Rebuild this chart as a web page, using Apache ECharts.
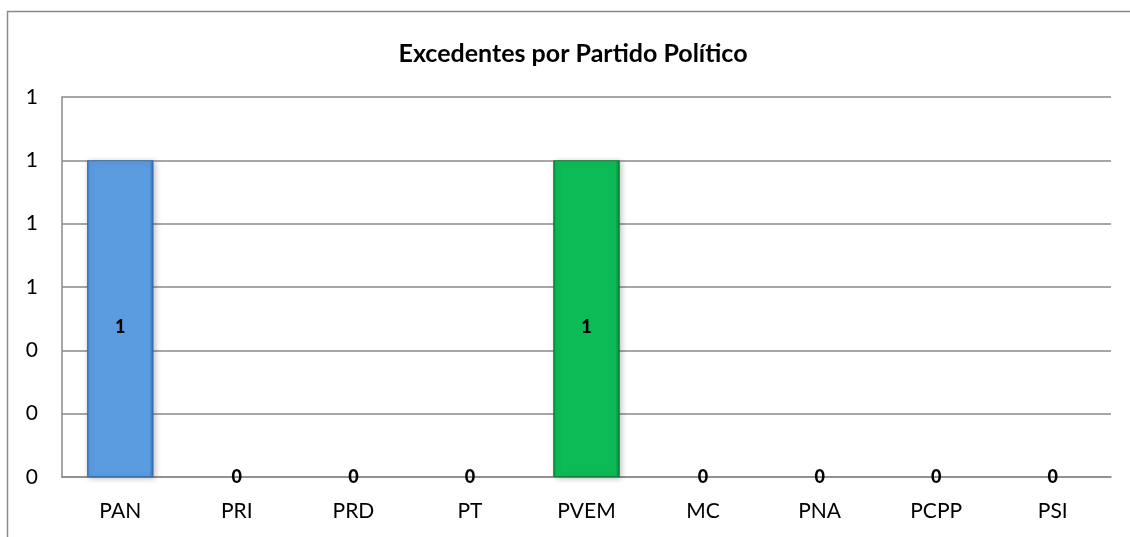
<!DOCTYPE html>
<html>
<head>
<meta charset="utf-8">
<script src="https://cdn.jsdelivr.net/npm/echarts@6/dist/echarts.min.js"></script>
<style>
  html, body { margin: 0; padding: 0; background: #fff; }
  #chart { width: 1130px; height: 537px; }
</style>
</head>
<body>
<div id="chart"></div>
<script>
const partidos = ['PAN', 'PRI', 'PRD', 'PT', 'PVEM', 'MC', 'PNA', 'PCPP', 'PSI'];
const excedentes = [1, 0, 0, 0, 1, 0, 0, 0, 0];
const barColors = ['#5b9be0', '#5b9be0', '#5b9be0', '#5b9be0', '#0cbb55', '#5b9be0', '#5b9be0', '#5b9be0', '#5b9be0'];
const edgeColors = ['#2f6cae', '#2f6cae', '#2f6cae', '#2f6cae', '#067a34', '#2f6cae', '#2f6cae', '#2f6cae', '#2f6cae'];

const FONT = 'Lato, "Open Sans", sans-serif';

function bevel(c, e) {
    return new echarts.graphic.LinearGradient(0, 0, 1, 0, [
        { offset: 0, color: e },
        { offset: 0.04, color: c },
        { offset: 0.94, color: c },
        { offset: 1, color: e }
    ]);
}

const chart = echarts.init(document.getElementById('chart'));
chart.setOption({
    animation: false,
    graphic: [{
        type: 'rect',
        shape: { x: 7.5, y: 11.5, width: 1140, height: 540 },
        style: { fill: 'none', stroke: '#8a8a8a', lineWidth: 1.5 },
        silent: true
    }],
    title: {
        text: 'Excedentes por Partido Político',
        left: 568,
        textAlign: 'center',
        top: 36,
        textStyle: { fontFamily: FONT, fontSize: 25, fontWeight: 'bold', color: '#000' }
    },
    grid: { left: 62, right: 19, top: 97, bottom: 60, containLabel: false },
    xAxis: {
        type: 'category',
        data: partidos,
        axisLine: { show: true, lineStyle: { color: '#8a8a8a', width: 1.5 } },
        axisTick: { show: false },
        axisLabel: { fontFamily: FONT, fontSize: 21, color: '#000', margin: 24 }
    },
    yAxis: {
        type: 'value',
        min: 0,
        max: 1.2,
        interval: 0.2,
        axisLine: { show: true, lineStyle: { color: '#8a8a8a', width: 1.5 } },
        axisTick: { show: false },
        splitLine: { lineStyle: { color: '#8a8a8a', width: 1.5 } },
        axisLabel: {
            fontFamily: FONT, fontSize: 21, color: '#000', margin: 24,
            formatter: v => v.toFixed(0)
        }
    },
    series: [{
        type: 'bar',
        barWidth: '57%',
        data: excedentes.map((v, i) => ({
            value: v,
            itemStyle: {
                color: bevel(barColors[i], edgeColors[i]),
                borderColor: edgeColors[i],
                borderWidth: v > 0 ? 0.8 : 0,
                shadowColor: 'rgba(0,0,0,0.25)',
                shadowBlur: v > 0 ? 6 : 0,
                shadowOffsetX: 2,
                shadowOffsetY: 1
            },
            label: {
                show: true,
                position: 'inside',
                offset: v > 0 ? [0, 9] : [0, 0],
                fontFamily: FONT,
                fontSize: 18,
                fontWeight: 900,
                color: '#000'
            }
        })),
        label: {
            show: true,
            position: 'inside',
            fontFamily: FONT,
            fontSize: 18,
            fontWeight: 900,
            color: '#000'
        }
    }]
});
</script>
</body>
</html>
